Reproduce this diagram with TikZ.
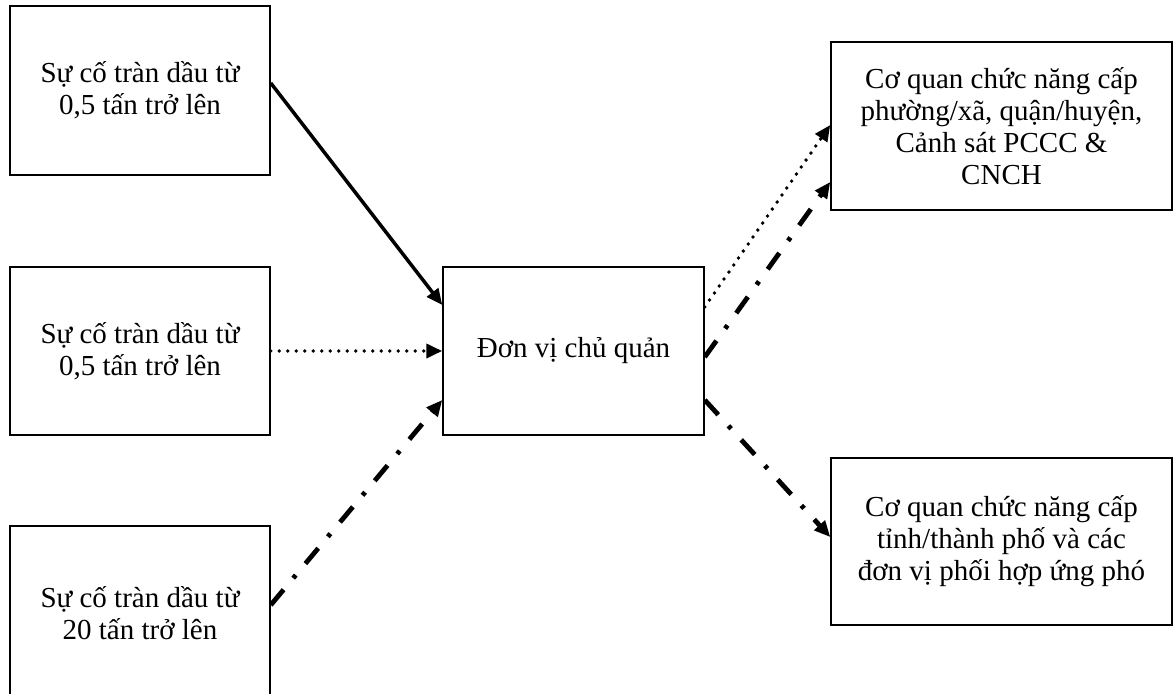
\documentclass[tikz,border=0pt]{standalone}
\usepackage{fontspec}
\setmainfont{Liberation Serif}
\usetikzlibrary{arrows.meta}
\tikzset{
  box/.style={draw=black, line width=1.5pt, inner sep=0pt, align=center,
    font=\fontsize{29}{32}\selectfont},
  tip/.style={-{Triangle[length=16pt,width=14pt]}},
  solidarrow/.style={tip, line width=3.5pt},
  dotarrow/.style={tip, line width=3.8pt, line cap=round, dash pattern=on 0pt off 8.5pt},
  dasharrow/.style={tip, line width=4.8pt, dash pattern=on 20pt off 15pt on 4pt off 15pt}
}
\begin{document}
\begin{tikzpicture}[x=1pt,y=-1pt]
\useasboundingbox (0,0) rectangle (1174,693);
\node[box, minimum width=260pt, minimum height=169pt] (l1) at (140,90.5) {Sự cố tràn dầu từ\\0,5 tấn trở lên};
\node[box, minimum width=260pt, minimum height=168pt] (l2) at (140,351) {Sự cố tràn dầu từ\\0,5 tấn trở lên};
\node[box, minimum width=260pt, minimum height=174pt] (l3) at (140,613) {Sự cố tràn dầu từ\\20 tấn trở lên};
\node[box, minimum width=261pt, minimum height=168pt] (c) at (573.5,351) {Đơn vị chủ quản};
\node[box, minimum width=341pt, minimum height=168pt] (r1) at (1001.5,126) {Cơ quan chức năng cấp\\phường/xã, quận/huyện,\\Cảnh sát PCCC \&\\CNCH};
\node[box, minimum width=341pt, minimum height=167pt] (r2) at (1001.5,541.5) {Cơ quan chức năng cấp\\tỉnh/thành phố và các\\đơn vị phối hợp ứng phó};
\draw[solidarrow] ([yshift=7.5pt]l1.east) -- ([yshift=46pt]c.west);
\draw[dotarrow] (l2.east) -- (c.west);
\draw[dasharrow] ([yshift=8pt]l3.east) -- ([yshift=-49pt]c.west);
\draw[dotarrow] ([yshift=44pt]c.east) -- ([yshift=1pt]r1.west);
\draw[dasharrow] ([yshift=-6pt]c.east) -- ([yshift=-56pt]r1.west);
\draw[dasharrow] ([yshift=-49pt]c.east) -- ([yshift=4.5pt]r2.west);
\end{tikzpicture}
\end{document}
